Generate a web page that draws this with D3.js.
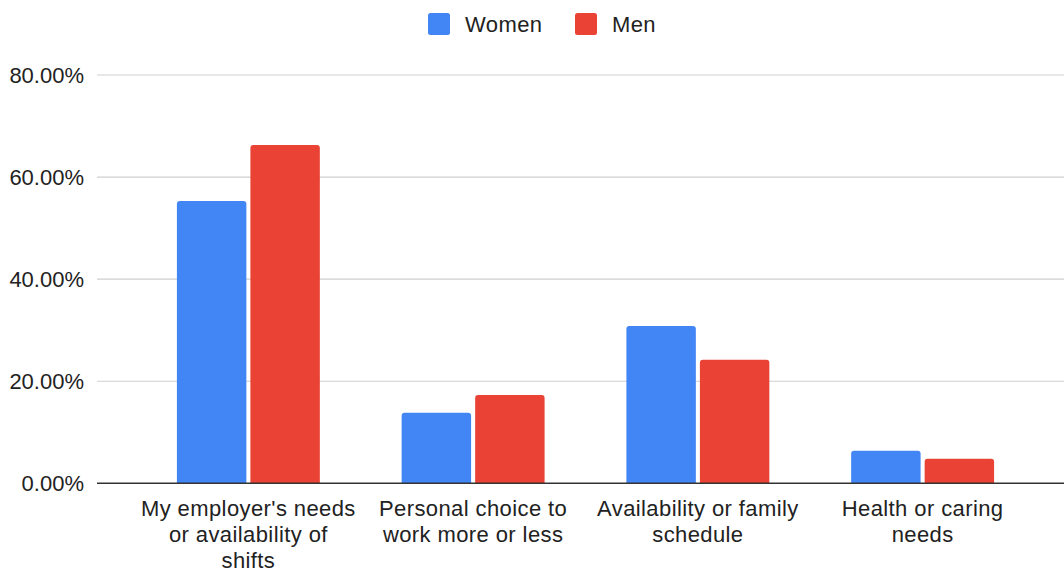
<!DOCTYPE html>
<html>
<head>
<meta charset="utf-8">
<script src="https://cdn.jsdelivr.net/npm/d3@7"></script>
<style>
  html, body { margin: 0; padding: 0; background: #fff; }
  svg { display: block; font-family: "Liberation Sans", Arial, Helvetica, sans-serif; }
</style>
</head>
<body>
<svg id="chart" width="1064" height="568"></svg>
<script>
// Reasons for working hours, share of respondents by gender
const categories = [
  "My employer's needs\nor availability of\nshifts",
  "Personal choice to\nwork more or less",
  "Availability or family\nschedule",
  "Health or caring\nneeds"
];
const seriesNames = ["Women", "Men"];
const women = [55.3, 13.8, 30.8, 6.4];
const men = [66.3, 17.3, 24.2, 4.8];
const yTicks = [0, 20, 40, 60, 80];
const colors = ["#4285F4", "#EA4335"];

const svg = d3.select("#chart");
const W = 1064;

const y = d3.scaleLinear().domain([0, 80]).range([483.3, 75]);
const x = d3.scaleBand().domain(categories).range([136, 1035])
  .paddingInner(0.364).paddingOuter(0.182);
const xs = d3.scaleBand().domain(seriesNames).range([0, x.bandwidth()]).paddingInner(0.055);
const color = d3.scaleOrdinal().domain(seriesNames).range(colors);

const gridLeft = 97, gridRight = W;

// gridlines
svg.append("g").selectAll("line").data(yTicks.filter(t => t > 0)).join("line")
  .attr("x1", gridLeft).attr("x2", gridRight)
  .attr("y1", d => y(d)).attr("y2", d => y(d))
  .attr("stroke", "#cfcfcf").attr("stroke-width", 1.2);

// y tick labels
const yAxis = d3.axisLeft(y).tickValues(yTicks).tickSize(0).tickPadding(0)
  .tickFormat(d => d3.format(".2f")(d) + "%");
const gy = svg.append("g").attr("transform", "translate(84,0)").call(yAxis);
gy.select(".domain").remove();
gy.selectAll("text").attr("font-size", 22).attr("fill", "#222")
  .attr("font-family", "'Liberation Sans', Arial, sans-serif");

// bars with slightly rounded top corners
function barPath(x0, y0, w, h, r) {
  r = Math.min(r, h, w / 2);
  return `M${x0},${y0 + h}V${y0 + r}Q${x0},${y0} ${x0 + r},${y0}H${x0 + w - r}Q${x0 + w},${y0} ${x0 + w},${y0 + r}V${y0 + h}Z`;
}

const rows = categories.map((c, i) => ({ cat: c, values: [
  { key: "Women", v: women[i] },
  { key: "Men", v: men[i] }
]}));

const groups = svg.append("g").selectAll("g").data(rows).join("g")
  .attr("transform", d => `translate(${x(d.cat)},0)`);
groups.selectAll("path").data(d => d.values).join("path")
  .attr("fill", d => color(d.key))
  .attr("d", d => barPath(xs(d.key), y(d.v), xs.bandwidth(), y(0) - y(d.v), 3));

// baseline
svg.append("line").attr("x1", gridLeft).attr("x2", gridRight)
  .attr("y1", y(0)).attr("y2", y(0))
  .attr("stroke", "#333").attr("stroke-width", 1.6);

// category labels, wrapped lines
const xl = svg.append("g").selectAll("text").data(categories).join("text")
  .attr("text-anchor", "middle").attr("font-size", 22).attr("letter-spacing", 0.4)
  .attr("fill", "#222")
  .attr("x", d => x(d) + x.bandwidth() / 2)
  .attr("y", 516);
xl.selectAll("tspan").data(d => d.split("\n")).join("tspan")
  .attr("x", function () { return d3.select(this.parentNode).attr("x"); })
  .attr("dy", (d, i) => i === 0 ? 0 : 26)
  .text(d => d);

// legend
const legendItems = [
  { key: "Women", sx: 428, tx: 465 },
  { key: "Men", sx: 575, tx: 612 }
];
const lg = svg.append("g").selectAll("g").data(legendItems).join("g");
lg.append("rect").attr("x", d => d.sx).attr("y", 13).attr("width", 22).attr("height", 22)
  .attr("rx", 2.5).attr("fill", d => color(d.key));
lg.append("text").attr("x", d => d.tx).attr("y", 32).attr("font-size", 22)
  .attr("letter-spacing", 0.4).attr("fill", "#222")
  .text(d => d.key);
</script>
</body>
</html>
